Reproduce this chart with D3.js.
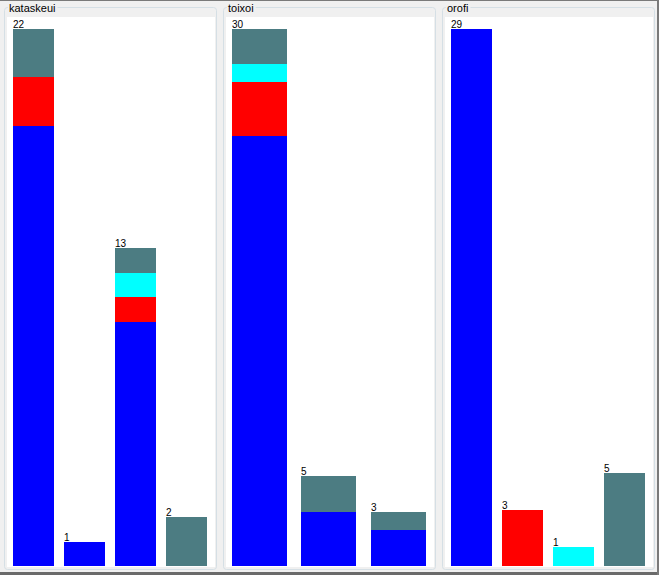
<!DOCTYPE html>
<html>
<head>
<meta charset="utf-8">
<script src="https://cdn.jsdelivr.net/npm/d3@7"></script>
<style>
  body { margin: 0; background: #f0f0f0; }
</style>
</head>
<body>
<script>
const width = 659;
const height = 575;

// panel titles
const panelNames = ['kataskeui', 'toixoi', 'orofi'];

// series, stacked bottom to top
const seriesKeys = ['blue', 'red', 'cyan', 'slate'];
const seriesColors = ['#0000ff', '#ff0000', '#00ffff', '#4c7c82'];

// values per panel, one array per series
const kataskeuiBlue = [18, 1, 10, 0];
const kataskeuiRed = [2, 0, 1, 0];
const kataskeuiCyan = [0, 0, 1, 0];
const kataskeuiSlate = [2, 0, 1, 2];

const toixoiBlue = [24, 3, 2];
const toixoiRed = [3, 0, 0];
const toixoiCyan = [1, 0, 0];
const toixoiSlate = [2, 2, 1];

const orofiBlue = [29, 0, 0, 0];
const orofiRed = [0, 3, 0, 0];
const orofiCyan = [0, 0, 1, 0];
const orofiSlate = [0, 0, 0, 5];

const panelSeries = [
  [kataskeuiBlue, kataskeuiRed, kataskeuiCyan, kataskeuiSlate],
  [toixoiBlue, toixoiRed, toixoiCyan, toixoiSlate],
  [orofiBlue, orofiRed, orofiCyan, orofiSlate],
];

const svg = d3
  .select('body')
  .append('svg')
  .attr('width', width)
  .attr('height', height)
  .style('display', 'block');

svg.append('rect').attr('width', width).attr('height', height).attr('fill', '#f0f0f0');

const color = d3.scaleOrdinal().domain(seriesKeys).range(seriesColors);

panelNames.forEach((name, i) => {
  const x0 = 4 + i * 219;
  const g = svg.append('g');

  // group box frame
  g.append('rect')
    .attr('x', x0 + 0.5)
    .attr('y', 7.5)
    .attr('width', 212)
    .attr('height', 562)
    .attr('rx', 3)
    .attr('fill', 'none')
    .attr('stroke', '#d5dfe5');

  const title = g
    .append('text')
    .attr('x', x0 + 5)
    .attr('y', 12)
    .style('font-family', 'Liberation Sans, Arial, sans-serif')
    .style('font-size', '11px')
    .attr('fill', '#000')
    .text(name);
  const tw = title.node().getComputedTextLength();
  g.insert('rect', 'text')
    .attr('x', x0 + 4)
    .attr('y', 2)
    .attr('width', tw + 3)
    .attr('height', 12)
    .attr('fill', '#f0f0f0');

  // white plot area
  g.append('rect')
    .attr('x', x0 + 3)
    .attr('y', 17)
    .attr('width', 208)
    .attr('height', 550)
    .attr('fill', '#ffffff');

  const cols = panelSeries[i];
  const n = cols[0].length;
  const rows = d3.range(n).map((j) => {
    const r = { idx: j };
    seriesKeys.forEach((k, s) => (r[k] = cols[s][j]));
    return r;
  });
  const stacked = d3.stack().keys(seriesKeys)(rows);
  const totals = rows.map((r) => d3.sum(seriesKeys, (k) => r[k]));

  const x = d3
    .scaleBand()
    .domain(d3.range(n))
    .range([x0 + 9, x0 + 203])
    .paddingInner(0.2)
    .paddingOuter(0);

  const y = d3
    .scaleLinear()
    .domain([0, d3.max(totals)])
    .range([566, 28.5]);

  stacked.forEach((layer) => {
    g.selectAll(null)
      .data(layer.filter((d) => d[1] > d[0]))
      .enter()
      .append('rect')
      .attr('x', (d) => Math.round(x(d.data.idx)))
      .attr('y', (d) => Math.round(y(d[1])))
      .attr('width', Math.round(x.bandwidth()))
      .attr('height', (d) => Math.round(y(d[0])) - Math.round(y(d[1])))
      .attr('fill', color(layer.key))
      .attr('shape-rendering', 'crispEdges');
  });

  g.selectAll(null)
    .data(rows)
    .enter()
    .append('text')
    .attr('x', (d) => Math.round(x(d.idx)))
    .attr('y', (d) => Math.round(y(totals[d.idx])) - 1)
    .style('font-family', 'Liberation Sans, Arial, sans-serif')
    .style('font-size', '10px')
    .attr('fill', '#000')
    .text((d) => totals[d.idx]);
});

// window edges
svg.append('rect').attr('x', 0).attr('y', 0).attr('width', width).attr('height', 1).attr('fill', '#7a7a7a');
svg.append('rect').attr('x', 0).attr('y', 572).attr('width', width).attr('height', 3).attr('fill', '#6a6a6a');
svg.append('rect').attr('x', 657).attr('y', 0).attr('width', 2).attr('height', height).attr('fill', '#7a7a7a');
</script>
</body>
</html>
